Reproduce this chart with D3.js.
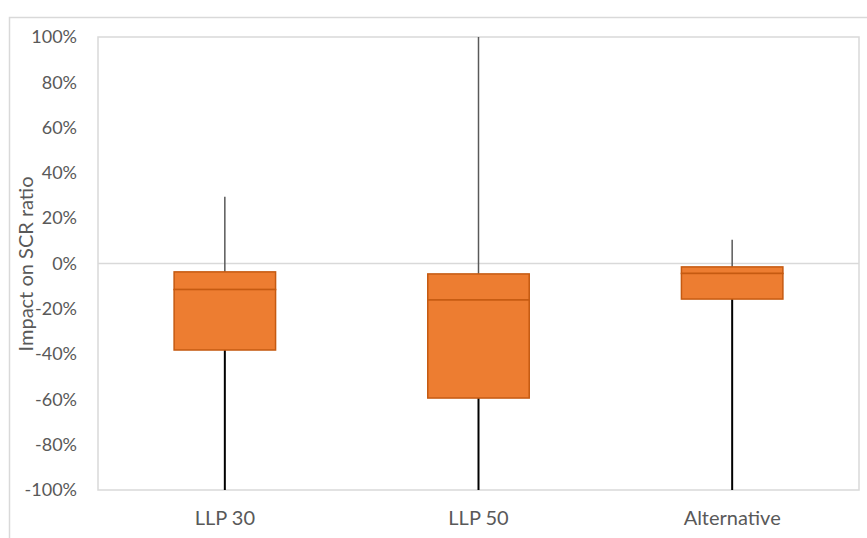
<!DOCTYPE html>
<html><head><meta charset="utf-8">
<script src="https://cdn.jsdelivr.net/npm/d3@7"></script>
<style>body{margin:0;background:#fff;} text{font-family:Lato,"Open Sans",sans-serif;}</style>
</head><body>
<svg id="c" width="867" height="538"></svg>
<script>
const categories = ["LLP 30", "LLP 50", "Alternative"];
const whiskerMax = [29.5, 100, 10.5];
const q3 = [-3.7, -4.6, -1.5];
const median = [-11.5, -16.1, -4.4];
const q1 = [-38.2, -59.4, -15.7];
const whiskerMin = [-100, -100, -100];
const yTicks = [100, 80, 60, 40, 20, 0, -20, -40, -60, -80, -100];

const svg = d3.select("#c");
const m = {left: 98, top: 37, right: 859, bottom: 490};

// outer chart border
svg.append("rect").attr("x", 9.5).attr("y", 17.5).attr("width", 900).attr("height", 600)
  .attr("fill", "none").attr("stroke", "#d9d9d9").attr("stroke-width", 1.5);

const x = d3.scaleBand().domain(categories).range([m.left, m.right]).paddingInner(0.6).paddingOuter(0.3);
const y = d3.scaleLinear().domain([-100, 100]).range([m.bottom, m.top]);

// plot area border
svg.append("rect").attr("x", m.left).attr("y", m.top).attr("width", m.right - m.left).attr("height", m.bottom - m.top)
  .attr("fill", "none").attr("stroke", "#d9d9d9").attr("stroke-width", 1.5);

// zero line
svg.append("line").attr("x1", m.left).attr("x2", m.right).attr("y1", y(0)).attr("y2", y(0))
  .attr("stroke", "#d9d9d9").attr("stroke-width", 1.5);

// y axis labels
const yAxis = d3.axisLeft(y).tickValues(yTicks).tickSize(0).tickPadding(21).tickFormat(d => d + "%");
const ga = svg.append("g").attr("transform", `translate(${m.left},0)`).call(yAxis);
ga.select(".domain").remove();
ga.selectAll("text").attr("fill", "#595959").style("font-size", "18px").style("font-family", "Lato");

// x axis labels
const xAxis = d3.axisBottom(x).tickSize(0).tickPadding(21);
const gx = svg.append("g").attr("transform", `translate(0,${m.bottom})`).call(xAxis);
gx.select(".domain").remove();
gx.selectAll("text").attr("fill", "#595959").style("font-size", "20px").style("font-family", "Lato");

// y axis title
svg.append("text").attr("transform", `translate(33,264) rotate(-90)`).attr("text-anchor", "middle")
  .attr("fill", "#595959").style("font-size", "20px").text("Impact on SCR ratio");

const data = categories.map((c, i) => ({c, hi: whiskerMax[i], q3: q3[i], med: median[i], q1: q1[i], lo: whiskerMin[i]}));
const g = svg.append("g");
const cx = d => x(d.c) + x.bandwidth() / 2;

// upper whiskers
g.selectAll(".uw").data(data).join("line").attr("x1", cx).attr("x2", cx)
  .attr("y1", d => y(d.hi)).attr("y2", d => y(d.q3)).attr("stroke", "#595959").attr("stroke-width", 1.5);
// lower whiskers
g.selectAll(".lw").data(data).join("line").attr("x1", cx).attr("x2", cx)
  .attr("y1", d => y(d.q1)).attr("y2", d => y(d.lo)).attr("stroke", "#000").attr("stroke-width", 2);
// upper box part (q3 to median)
g.selectAll(".bu").data(data).join("rect").attr("x", d => x(d.c)).attr("width", x.bandwidth())
  .attr("y", d => y(d.q3)).attr("height", d => y(d.med) - y(d.q3))
  .attr("fill", "#ED7D31").attr("stroke", "#C55A11").attr("stroke-width", 1.5);
// lower box part (median to q1)
g.selectAll(".bl").data(data).join("rect").attr("x", d => x(d.c)).attr("width", x.bandwidth())
  .attr("y", d => y(d.med)).attr("height", d => y(d.q1) - y(d.med))
  .attr("fill", "#ED7D31").attr("stroke", "#C55A11").attr("stroke-width", 1.5);
</script>
</body></html>
